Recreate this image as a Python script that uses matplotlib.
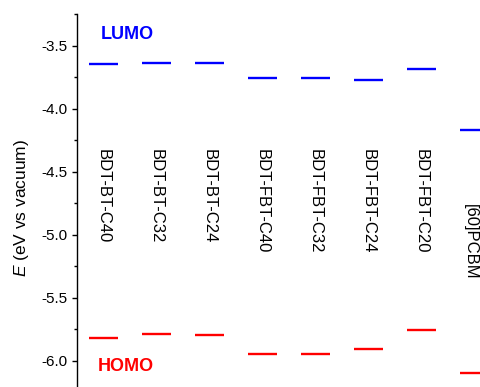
import matplotlib
matplotlib.use("Agg")
import matplotlib.pyplot as plt
from matplotlib.ticker import MultipleLocator

plt.rcParams['font.family'] = ['Liberation Sans', 'DejaVu Sans']
plt.rcParams['mathtext.fontset'] = 'custom'
plt.rcParams['mathtext.it'] = 'Liberation Sans:italic'
plt.rcParams['mathtext.rm'] = 'Liberation Sans'

materials = ["BDT-BT-C40", "BDT-BT-C32", "BDT-BT-C24", "BDT-FBT-C40",
             "BDT-FBT-C32", "BDT-FBT-C24", "BDT-FBT-C20", "[60]PCBM"]
lumo = [-3.65, -3.64, -3.64, -3.76, -3.76, -3.77, -3.69, -4.17]
homo = [-5.82, -5.79, -5.80, -5.95, -5.95, -5.91, -5.76, -6.10]

W, H = 480, 387
fig = plt.figure(figsize=(W / 100, H / 100), dpi=100)

# axes geometry (extends beyond the visible crop on the right)
x0_px, top_px = 77, 14
px_per_x, px_per_y = 53, 126
xlim = (0.5, 9.5)
ylim = (-6.22, -3.25)
ax_w = (xlim[1] - xlim[0]) * px_per_x
ax_h = (ylim[1] - ylim[0]) * px_per_y
ax = fig.add_axes([x0_px / W, 1 - (top_px + ax_h) / H, ax_w / W, ax_h / H])
ax.set_xlim(*xlim)
ax.set_ylim(*ylim)

xs = list(range(1, len(materials) + 1))
hw = 0.283
ax.hlines(lumo, [x - hw for x in xs], [x + hw for x in xs], colors='#0000ff', lw=1.7)
ax.hlines(homo, [x - hw for x in xs], [x + hw for x in xs], colors='#ff0000', lw=1.7)

for x, name in zip(xs, materials):
    if name == "[60]PCBM":
        ax.text(x - 0.08, -4.756, name, rotation=-90, ha='center', va='top', fontsize=12)
    else:
        ax.text(x, -4.32, name, rotation=-90, ha='center', va='top', fontsize=12)

ax.text(1.44, -3.413, "LUMO", color='#0000ff', fontweight='bold', fontsize=13,
        ha='center', va='center')
ax.text(1.42, -6.044, "HOMO", color='#ff0000', fontweight='bold', fontsize=13,
        ha='center', va='center')

for s in ['top', 'right', 'bottom']:
    ax.spines[s].set_visible(False)
ax.spines['left'].set_linewidth(1.0)
ax.set_xticks([])
ax.yaxis.set_major_locator(MultipleLocator(0.5))
ax.yaxis.set_minor_locator(MultipleLocator(0.25))
ax.tick_params(axis='y', which='major', length=3.6, width=1.0, labelsize=11, pad=3.6)
ax.tick_params(axis='y', which='minor', length=2.2, width=1.0)
ax.yaxis.set_major_formatter(matplotlib.ticker.FormatStrFormatter('%.1f'))

fig.text(22 / W, 1 - 207.5 / H, r"$\it{E}$ (eV vs vacuum)", rotation=90,
         ha='center', va='center', fontsize=12.5)

fig.savefig("out.png", dpi=100)
